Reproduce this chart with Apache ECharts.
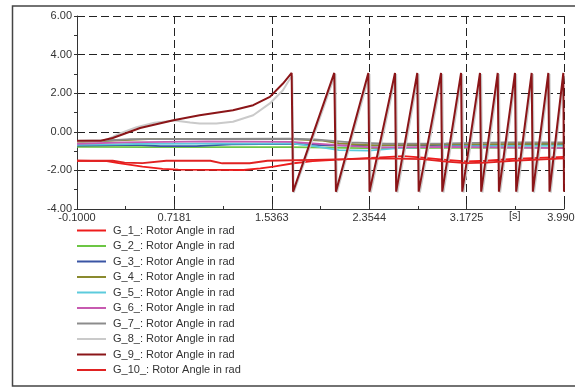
<!DOCTYPE html>
<html>
<head>
<meta charset="utf-8">
<script src="https://cdn.jsdelivr.net/npm/echarts@6/dist/echarts.min.js"></script>
<style>
html,body{margin:0;padding:0;background:#fff;}
#chart{width:575px;height:388px;}
</style>
</head>
<body>
<div id="chart"></div>
<script>
// ---- data ----
const X0 = -0.1;
const X1 = 3.9907;
const xTickLabels = ['-0.1000','0.7181','1.5363','2.3544','3.1725','3.9907'];
const yTickLabels = ['-4.00','-2.00','0.00','2.00','4.00','6.00'];
const seriesNames = ['G_1_: Rotor Angle in rad','G_2_: Rotor Angle in rad','G_3_: Rotor Angle in rad','G_4_: Rotor Angle in rad','G_5_: Rotor Angle in rad','G_6_: Rotor Angle in rad','G_7_: Rotor Angle in rad','G_8_: Rotor Angle in rad','G_9_: Rotor Angle in rad','G_10_: Rotor Angle in rad'];
const seriesColors = ['#ee1c1c','#6cc644','#3a55a4','#8a8a2e','#5ccbdc','#c75ab0','#8c8c8c','#cacaca','#8b1518','#e02222'];

const g1 = [[-0.1,-1.5],[0.15,-1.52],[0.25,-1.62],[0.45,-1.8],[0.62,-1.92],[0.75,-1.96],[1.3,-1.98],[1.44,-1.9],[1.55,-1.8],[1.72,-1.63],[1.88,-1.52],[2.17,-1.42],[2.45,-1.32],[2.64,-1.26],[2.78,-1.33],[3.0,-1.46],[3.17,-1.53],[3.34,-1.5],[3.56,-1.4],[3.99,-1.3]];
const g2 = [[-0.1,-0.78],[0.5,-0.79],[1.7,-0.79],[2.0,-0.82],[2.3,-0.85],[3.0,-0.83],[3.99,-0.82]];
const g3 = [[-0.1,-0.72],[0.4,-0.68],[0.6,-0.74],[0.9,-0.74],[1.2,-0.65],[1.7,-0.62],[2.0,-0.7],[2.3,-0.72],[2.6,-0.7],[3.99,-0.68]];
const g4 = [[-0.1,-0.55],[0.2,-0.45],[0.5,-0.38],[1.7,-0.38],[1.95,-0.45],[2.1,-0.6],[2.4,-0.7],[3.0,-0.65],[3.99,-0.62]];
const g5 = [[-0.1,-0.68],[0.5,-0.62],[1.7,-0.6],[1.9,-0.75],[2.1,-0.95],[2.35,-0.98],[2.6,-0.85],[3.0,-0.75],[3.99,-0.72]];
const g6 = [[-0.1,-0.62],[0.3,-0.55],[1.0,-0.5],[1.7,-0.52],[2.0,-0.65],[2.4,-0.82],[3.0,-0.78],[3.99,-0.85]];
const g7 = [[-0.1,-0.47],[0.15,-0.45],[0.35,-0.38],[1.7,-0.36],[1.9,-0.4],[2.2,-0.55],[2.5,-0.62],[3.0,-0.6],[3.5,-0.55],[3.99,-0.55]];
const g8 = [[-0.1,-0.5],[0.1,-0.48],[0.16,-0.38],[0.26,-0.08],[0.4,0.24],[0.55,0.47],[0.72,0.58],[0.85,0.48],[0.93,0.43],[1.07,0.43],[1.21,0.52],[1.38,0.86],[1.52,1.47],[1.63,2.15],[1.69,2.76],[1.708,2.9],[1.72,-3.15],
  [2.07,3.0],[2.083,-3.15],[2.357,3.0],[2.367,-3.15],[2.581,3.0],[2.591,-3.15],[2.768,3.0],[2.78,-3.15],[2.968,3.0],[2.978,-3.15],[3.136,3.0],[3.146,-3.15],[3.295,3.0],[3.305,-3.15],[3.444,3.0],[3.454,-3.15],[3.589,3.0],[3.599,-3.15],[3.729,3.0],[3.739,-3.15],[3.869,3.0],[3.879,-3.15],[3.99,2.9]];
const g9 = [[-0.1,-0.47],[0.1,-0.46],[0.2,-0.32],[0.43,0.2],[0.71,0.6],[0.93,0.86],[1.21,1.12],[1.38,1.38],[1.52,1.81],[1.63,2.5],[1.703,3.05],[1.715,-3.1],
  [2.061,3.05],[2.075,-3.1],[2.347,3.05],[2.357,-3.1],[2.571,3.05],[2.581,-3.1],[2.758,3.05],[2.77,-3.1],[2.958,3.05],[2.968,-3.1],[3.126,3.05],[3.136,-3.1],[3.285,3.05],[3.295,-3.1],[3.434,3.05],[3.444,-3.1],[3.579,3.05],[3.589,-3.1],[3.719,3.05],[3.729,-3.1],[3.859,3.05],[3.869,-3.1],[3.985,3.05],[3.9907,-3.1]];
const g10 = [[-0.1,-1.5],[0.2,-1.5],[0.3,-1.6],[0.45,-1.62],[0.65,-1.5],[1.02,-1.5],[1.12,-1.63],[1.35,-1.63],[1.5,-1.5],[1.88,-1.45],[2.17,-1.42],[2.45,-1.38],[2.8,-1.42],[3.0,-1.55],[3.17,-1.62],[3.34,-1.6],[3.56,-1.5],[3.99,-1.38]];
const allData = [g1,g2,g3,g4,g5,g6,g7,g8,g9,g10];

// ---- chart ----
const span = X1 - X0;
const xInterval = span / 5;
const FONT = 'Liberation Sans, Arial, sans-serif';
const chart = echarts.init(document.getElementById('chart'), null, {renderer:'canvas'});
const grid = {left:77, right:11, top:16, bottom:179, outerBoundsMode:'none', containLabel:false};
const gridLine = {show:true, lineStyle:{color:'#222', type:[8,4], width:1}};

chart.setOption({
  animation:false,
  backgroundColor:'#fff',
  grid:grid,
  xAxis:{
    type:'value', min:0, max:span, interval:xInterval,
    axisLine:{show:true, onZero:false, lineStyle:{color:'#333', width:1}},
    axisTick:{show:true, inside:true, length:5, lineStyle:{color:'#333'}},
    minorTick:{show:true, splitNumber:2, length:3, lineStyle:{color:'#333'}},
    splitLine:gridLine,
    axisLabel:{color:'#333', fontFamily:FONT, fontSize:11, margin:3, hideOverlap:false,
      formatter:function(v){return xTickLabels[Math.round(v/xInterval)] || '';}}
  },
  yAxis:{
    type:'value', min:-4, max:6, interval:2,
    axisLine:{show:true, onZero:false, lineStyle:{color:'#333', width:1}},
    axisTick:{show:true, length:3, lineStyle:{color:'#333'}},
    minorTick:{show:true, splitNumber:2, length:3, lineStyle:{color:'#333'}},
    splitLine:gridLine,
    axisLabel:{color:'#333', fontFamily:FONT, fontSize:11, margin:5,
      formatter:function(v){return yTickLabels[Math.round((v+4)/2)] || '';}}
  },
  legend:{
    orient:'vertical', left:77, top:224, padding:0,
    itemWidth:29, itemHeight:2, itemGap:2.5, icon:'rect',
    textStyle:{color:'#333', fontFamily:FONT, fontSize:11, lineHeight:13, padding:[0,0,0,2]},
    data:seriesNames
  },
  graphic:[
    {type:'rect', shape:{x:12.5, y:6, width:600, height:380}, style:{fill:null, stroke:'#444', lineWidth:1.5}, silent:true},
    {type:'text', left:509, top:210, style:{text:'[s]', fill:'#333', font:'11px Liberation Sans, Arial'}}
  ],
  series: allData.map(function(d,i){
    return {
      name:seriesNames[i], type:'line', showSymbol:false, symbol:'none',
      color:seriesColors[i],
      lineStyle:{width:(i===7||i===8)?2:1.8, color:seriesColors[i]},
      itemStyle:{color:seriesColors[i]},
      data:d.map(function(p){return [p[0]-X0, p[1]];})
    };
  })
});
</script>
</body>
</html>
